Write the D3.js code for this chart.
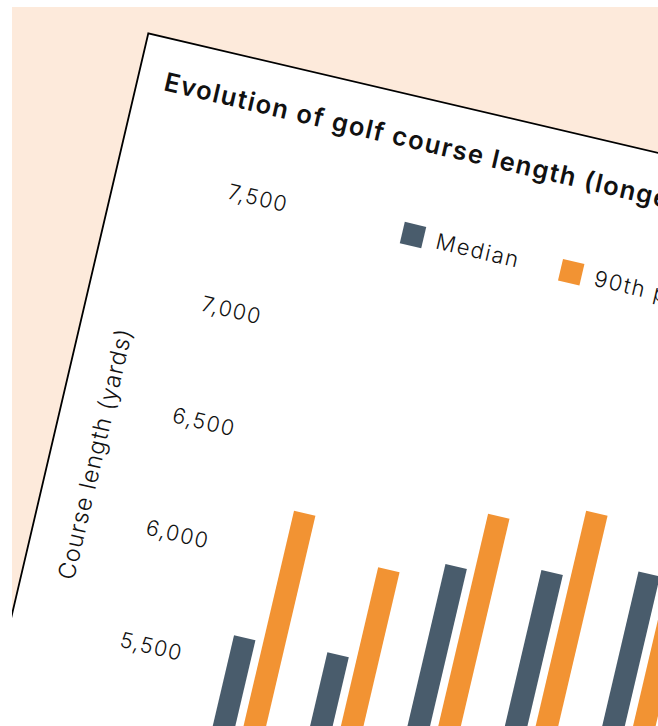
<!DOCTYPE html>
<html><head><meta charset="utf-8">
<script src="https://cdn.jsdelivr.net/npm/d3@7"></script>
<style>
html,body{margin:0;padding:0;background:#fff;width:658px;height:726px;overflow:hidden}
#chart{position:absolute;left:12px;top:7px;overflow:hidden;display:block;background:#fdeadb}
text{font-family:Inter,"Open Sans",sans-serif;fill:#111}
</style></head><body>
<svg id="chart" width="646" height="719"></svg>
<script>
// ---- data ----
const categories = ["Group 1", "Group 2", "Group 3", "Group 4", "Group 5"];
const seriesNames = ["Median", "90th percentile"];
const medianValues = [5630, 5650, 6140, 6210, 6300];
const p90Values = [6215, 6060, 6395, 6505, 6550];
const yTicks = [5500, 6000, 6500, 7000, 7500];
const titleText = "Evolution of golf course length (longest tees)";
const yTitleText = "Course length (yards)";
const colors = ["#495c6c", "#f29333"];

// ---- layout (card local coordinates) ----
const svg = d3.select("#chart");
const card = svg.append("g").attr("transform", "translate(136.3,26.3) rotate(13.2)");
card.append("rect").attr("x", 0).attr("y", 0).attr("width", 1200).attr("height", 1200)
  .attr("fill", "#fff").attr("stroke", "#000").attr("stroke-width", 1.8);

card.append("text").attr("x", 27).attr("y", 52)
  .attr("font-size", 25.5).attr("font-weight", 600).style("letter-spacing", "1.5px")
  .text(titleText);

const y = d3.scaleLinear().domain([5000, 7500]).range([711.5, 135.5]);
const x0 = d3.scaleBand().domain(categories).range([199.5, 673.5])
  .paddingInner(0.4515).paddingOuter(0.2257);
const x1 = d3.scaleBand().domain(seriesNames).range([0, x0.bandwidth()])
  .paddingInner(0.2667).paddingOuter(0);

const yAxis = card.append("g").attr("transform", "translate(175,0)")
  .call(d3.axisLeft(y).tickValues(yTicks).tickSize(0).tickPadding(0).tickFormat(d3.format(",")));
yAxis.select(".domain").remove();
yAxis.selectAll("text").attr("font-size", 21.5).attr("font-weight", 300)
  .attr("fill", "#111").style("font-family", "Inter,'Open Sans',sans-serif").style("letter-spacing", "1.3px");

card.append("text").attr("transform", "translate(44,421.5) rotate(-90)")
  .attr("text-anchor", "middle").attr("dominant-baseline", "central")
  .attr("font-size", 23.5).attr("font-weight", 300).style("letter-spacing", "1px")
  .text(yTitleText);

// legend
const legendX = [292.8, 455.3];
const leg = card.append("g").selectAll("g").data(seriesNames).join("g")
  .attr("transform", (d, i) => `translate(${legendX[i]},125)`);
leg.append("rect").attr("width", 22).attr("height", 22).attr("fill", (d, i) => colors[i]);
leg.append("text").attr("x", 35).attr("y", 11).attr("dominant-baseline", "central")
  .attr("font-size", 22).attr("font-weight", 300).style("letter-spacing", "1.6px")
  .text(d => d);

// bars
const rows = categories.map((c, i) => ({cat: c, vals: [medianValues[i], p90Values[i]]}));
const grp = card.append("g").selectAll("g").data(rows).join("g")
  .attr("transform", d => `translate(${x0(d.cat)},0)`);
grp.selectAll("rect").data(d => d.vals.map((v, j) => ({name: seriesNames[j], v, j}))).join("rect")
  .attr("x", d => x1(d.name)).attr("width", x1.bandwidth())
  .attr("y", d => y(d.v)).attr("height", d => y.range()[0] - y(d.v))
  .attr("fill", d => colors[d.j]);
</script>
</body></html>
